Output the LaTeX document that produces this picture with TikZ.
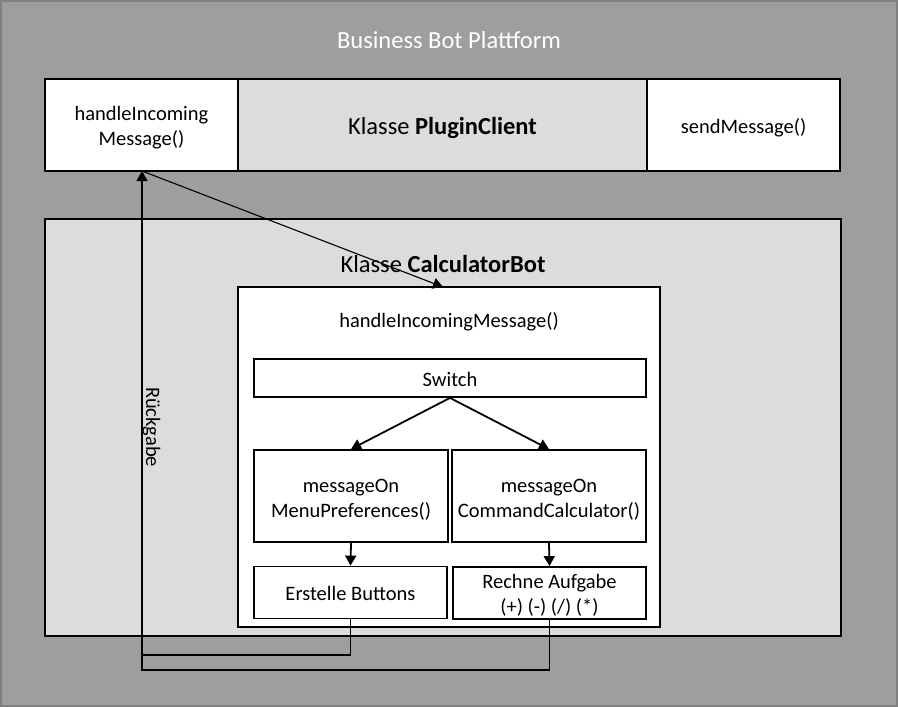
\documentclass[tikz,border=0pt]{standalone}
\usepackage{fontspec}
\setmainfont{Carlito}
\usetikzlibrary{arrows.meta}
\definecolor{bgout}{HTML}{9E9E9E}
\definecolor{bgedge}{HTML}{808080}
\definecolor{bglight}{HTML}{DCDCDC}
\tikzset{
  box/.style={draw=black, line width=1.8pt},
  small/.style={font=\fontsize{20.5}{25}\selectfont, align=center},
  big/.style={font=\fontsize{24.5}{29}\selectfont},
  tip/.style={-{Triangle[width=11pt,length=10pt]}},
  thin line/.style={draw=black, line width=1.1pt},
}
\begin{document}
\begin{tikzpicture}[x=1pt,y=-1pt]
\useasboundingbox (0,0) rectangle (898,707);
% outer platform
\fill[bgedge] (0,0) rectangle (898,707);
\fill[bgout] (2,2) rectangle (896,705);
\node[big, text=white] (title) at (449,40) {Business Bot Plattform};
% PluginClient row
\path[box, fill=white] (45,79) rectangle (238,171);
\path[box, fill=bglight] (238,79) rectangle (647,171);
\path[box, fill=white] (647,79) rectangle (840,171);
\node[small] (hin) at (141.5,128) {handleIncoming\\Message()};
\node[big] (pc) at (442.5,128) {Klasse \textbf{PluginClient}};
\node[small] (send) at (743.5,128) {sendMessage()};
\coordinate (hinb) at (142,171);
% CalculatorBot
\path[box, fill=bglight] (45,219) rectangle (841,636);
\node[big] (cb) at (443,264) {Klasse \textbf{CalculatorBot}};
\path[box, fill=white] (238,287) rectangle (660,627);
\coordinate (innertop) at (443,287);
\node[small] (him) at (449,322) {handleIncomingMessage()};
\node[box, minimum width=392pt, minimum height=38pt, inner sep=0pt] (sw) at (450,378) {};
\node[small] (swt) at (450,379) {Switch};
\node[box, minimum width=194pt, minimum height=92pt, inner sep=0pt] (menu) at (351,496) {};
\node[small] (menut) at (351,500) {messageOn\\MenuPreferences()};
\node[box, minimum width=194pt, minimum height=92pt, inner sep=0pt] (cmd) at (549,496) {};
\node[small] (cmdt) at (549,500) {messageOn\\CommandCalculator()};
\node[box, minimum width=193pt, minimum height=52pt, inner sep=0pt] (btn) at (350.5,592.5) {};
\node[small] (btnt) at (350.5,593.5) {Erstelle Buttons};
\node[box, minimum width=193pt, minimum height=52pt, inner sep=0pt] (calc) at (549.5,593) {};
\node[small] (calct) at (549.5,595) {Rechne Aufgabe\\(+) (-) (/) (*)};
% arrows
\draw[line width=1.8pt, tip] (sw.south) -- (menu.north);
\draw[line width=1.8pt, tip] (sw.south) -- (cmd.north);
\draw[line width=1.8pt, tip] (menu.south) -- (btn.north);
\draw[line width=1.8pt, tip] (cmd.south) -- (calc.north);
\draw[thin line, tip] (hinb) -- (innertop);
% return lines
\coordinate (r1) at (142,655);
\coordinate (r2) at (142,670);
\draw[thin line] (btn.south) |- (r1);
\draw[thin line, tip] (calc.south) |- (r2) -- (hinb);
\node[small, rotate=-90] (rg) at (151.5,427) {Rückgabe};
\end{tikzpicture}
\end{document}
